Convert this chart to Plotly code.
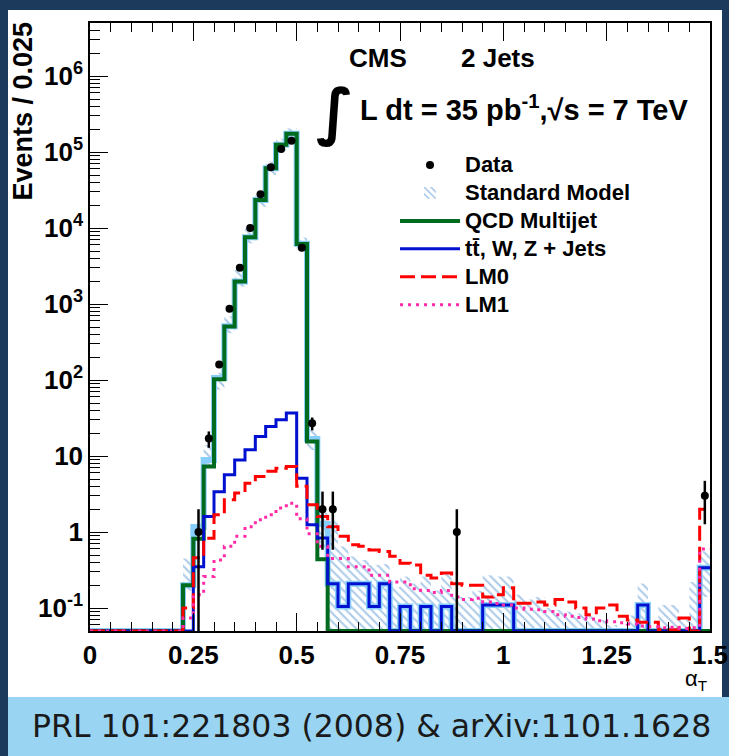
import numpy as np
import plotly.graph_objects as go

# ---------------- data ----------------
bin_width = 0.025
n_bins = 60
edges = np.round(np.arange(n_bins + 1) * bin_width, 4)
centers = edges[:-1] + bin_width / 2

# QCD multijet (green)
qcd = [0] * 9 + [0.2, 0.82, 7.3, 103, 507, 1980, 7600, 23500, 61500, 125000,
                 174000, 6200, 15.6, 0.44] + [0] * 37

# ttbar, W, Z + jets (blue)
ewk = [0] * 10 + [0.35, 1.6, 3.4, 5.7, 8.9, 12.1, 18.1, 24.5, 30, 36.8,
                  5.1, 1.25, 0.84, 0.21, 0.105, 0.21, 0.21, 0.105, 0.21, 0,
                  0.105, 0, 0.105, 0, 0.105, 0, 0, 0, 0.11, 0.11,
                  0.11, 0, 0, 0, 0, 0, 0, 0, 0, 0,
                  0, 0, 0, 0.11, 0, 0, 0, 0, 0, 0.34]

# LM0 (red dashed)
lm0 = [0] * 9 + [0.1, 0.46, 0.83, 1.69, 2.66, 3.26, 4.4, 5.4, 6.3, 6.9,
                 7.3, 4.0, 2.29, 1.6, 1.18, 0.88, 0.68, 0.65, 0.58, 0.555,
                 0.48, 0.39, 0.37, 0.27, 0.25, 0.29, 0.21, 0.2, 0.2, 0.14,
                 0.15, 0.185, 0.116, 0.116, 0.12, 0.11, 0.13, 0.12, 0.1, 0.082,
                 0.1, 0.11, 0.078, 0.07, 0.065, 0.065, 0.052, 0.052, 0.074, 0.05,
                 2.0]

# LM1 (magenta dotted)
lm1 = [0] * 9 + [0.074, 0.15, 0.26, 0.43, 0.65, 0.88, 1.18, 1.45, 1.69, 2.07,
                 2.4, 1.5, 0.95, 0.65, 0.45, 0.45, 0.35, 0.35, 0.27, 0.27,
                 0.22, 0.22, 0.18, 0.17, 0.16, 0.17, 0.14, 0.13, 0.135, 0.12,
                 0.115, 0.11, 0.1, 0.097, 0.095, 0.09, 0.082, 0.078, 0.075, 0.072,
                 0.068, 0.066, 0.064, 0.062, 0.058, 0.057, 0.055, 0.056, 0.054, 0.055,
                 0.6]

# Standard Model uncertainty band (low / high edge per bin)
sm_band_lo = [0] * 9 + [0.17, 0.88, 7.5, 75, 415, 1700, 6300, 19000, 50000, 105000,
                        145000, 5000, 12, 0.6] + [0] * 36 + [0.14]
sm_band_hi = [0] * 9 + [0.45, 1.3, 14, 125, 690, 2800, 10000, 28000, 75000, 150000,
                        205000, 7500, 22, 1.8, 1.45, 0.65, 0.48, 0.43, 0.37, 0.38,
                        0.19, 0.26, 0.21, 0.26, 0.17, 0.29, 0.14, 0.14, 0.17, 0.27,
                        0.26, 0.26, 0.15, 0.13, 0.14, 0.1, 0.095, 0.09, 0.085, 0.08,
                        0.07, 0.06, 0, 0.08, 0.21, 0, 0.11, 0.11, 0.07, 0.22,
                        0.56]

# Data (event counts per bin index)
data_bins = [10, 11, 12, 13, 14, 15, 16, 17, 18, 19, 20, 21, 22, 23, 35, 59]
data_counts = [1, 17, 160, 870, 3000, 10000, 28000, 63000, 110000, 141000,
               5500, 27, 2, 2, 1, 3]

y_tick_vals = [0.1, 1, 10, 100, 1000, 1e4, 1e5, 1e6]
y_tick_text = ["10<sup>-1</sup>", "1", "10", "10<sup>2</sup>", "10<sup>3</sup>",
               "10<sup>4</sup>", "10<sup>5</sup>", "10<sup>6</sup>"]
x_tick_vals = [0, 0.25, 0.5, 0.75, 1, 1.25, 1.5]
x_tick_text = ["0", "0.25", "0.5", "0.75", "1", "1.25", "1.5"]

# ---------------- layout geometry ----------------
W, H = 729, 756
ML, MR, MT, MB = 90, 19, 23, 125
Y_MIN, Y_MAX = 0.05, 5e6
PW, PH = W - ML - MR, H - MT - MB


def px_x(px):
    return (px - ML) / PW


def px_y(py):
    return (H - MB - py) / PH


def step_xy(vals):
    y = np.maximum(np.asarray(vals, float), Y_MIN)
    return np.append(edges[:-1], edges[-1]), np.append(y, y[-1])


def legend_name(s):
    return f'<span style="font-size:22px">{s}</span>'


FONT = "Liberation Sans"
fig = go.Figure()

# SM uncertainty band (hatched)
lo = np.maximum(np.asarray(sm_band_lo, float), Y_MIN)
hi = np.asarray(sm_band_hi, float)
mask = hi > lo
fig.add_trace(go.Bar(
    x=centers[mask], base=lo[mask], y=(hi - lo)[mask], width=bin_width,
    name=legend_name("Standard Model"), legendrank=2,
    marker=dict(color="rgba(0,0,0,0)", line=dict(width=0),
                pattern=dict(shape="\\", fgcolor="#5895d4", bgcolor="rgba(0,0,0,0)",
                             size=6, solidity=0.35, fillmode="overlay")),
    hoverinfo="skip",
))

# SM central value
sm = np.asarray(qcd, float) + np.asarray(ewk, float)
sx, sy = step_xy(sm)
fig.add_trace(go.Scatter(x=sx, y=sy, mode="lines", line=dict(color="#87cefa", width=6, shape="hv"),
                         showlegend=False, hoverinfo="skip"))

traces = [
    (qcd, "QCD Multijet", dict(color="#006b1e", width=4, shape="hv"), 3),
    (ewk, "tt\u0304, W, Z + Jets", dict(color="#0010d0", width=3, shape="hv"), 4),
    (lm0, "LM0", dict(color="#ff0000", width=3, shape="hv", dash="15px,6px"), 5),
    (lm1, "LM1", dict(color="#ff2aa8", width=3, shape="hv", dash="3px,5px"), 6),
]
for vals, name, line, rank in traces:
    xs, ys = step_xy(vals)
    fig.add_trace(go.Scatter(x=xs, y=ys, mode="lines", name=legend_name(name), line=line,
                             legendrank=rank))

# Data
dc = np.asarray(data_counts, float)
fig.add_trace(go.Scatter(
    x=centers[data_bins], y=dc, mode="markers", name=legend_name("Data"), legendrank=1,
    marker=dict(color="black", size=8),
    error_y=dict(type="data", array=np.sqrt(dc), arrayminus=np.sqrt(dc),
                 color="black", thickness=2.5, width=0),
))

fig.update_layout(
    width=W, height=H, autosize=False,
    margin=dict(l=ML, r=MR, t=MT, b=MB, autoexpand=False),
    paper_bgcolor="#1b3a5c",
    plot_bgcolor="white",
    barmode="overlay",
    font=dict(family=FONT, color="black"),
    showlegend=True,
    legend=dict(
        x=px_x(395), y=px_y(146), xanchor="left", yanchor="top",
        bgcolor="rgba(0,0,0,0)", borderwidth=0,
        font=dict(family=FONT, size=19.2, weight="bold", color="black"),
        itemwidth=60, tracegroupgap=0, traceorder="normal",
    ),
    xaxis=dict(
        range=[0, 1.5], showgrid=False, zeroline=False,
        showline=True, linecolor="black", linewidth=1.5, mirror="ticks",
        ticks="inside", ticklen=18, tickwidth=1.2, tickcolor="black",
        tickvals=x_tick_vals, ticktext=x_tick_text,
        tickfont=dict(family=FONT, size=26, weight="bold"),
        minor=dict(ticks="inside", ticklen=9, tickwidth=1.2, tickcolor="black", dtick=0.05, showgrid=False),
    ),
    yaxis=dict(
        type="log", range=[np.log10(Y_MIN), np.log10(Y_MAX)], showgrid=False, zeroline=False,
        showline=True, linecolor="black", linewidth=1.5, mirror=True,
        ticks="inside", ticklen=18, tickwidth=1.2, tickcolor="black",
        tickvals=y_tick_vals, ticktext=y_tick_text,
        tickfont=dict(family=FONT, size=26, weight="bold"),
        minor=dict(ticks="inside", ticklen=10, tickwidth=1.2, tickcolor="black", showgrid=False,
                   tickvals=[k * 10.0 ** e for e in range(-2, 7) for k in range(2, 10)
                             if Y_MIN < k * 10.0 ** e < Y_MAX]),
    ),
)

# white panel and caption band
fig.add_shape(type="rect", xref="paper", yref="paper", layer="below",
              x0=px_x(8), x1=px_x(722), y0=px_y(697), y1=px_y(10),
              fillcolor="white", line=dict(width=0))
fig.add_shape(type="rect", xref="paper", yref="paper", layer="below",
              x0=px_x(8), x1=px_x(729), y0=px_y(756), y1=px_y(697),
              fillcolor="#99d4f2", line=dict(width=0))

ann = [
    dict(text="<b>CMS</b>", x=px_x(347), y=px_y(58), size=26, xanchor="left", family=FONT),
    dict(text="<b>2 Jets</b>", x=px_x(459), y=px_y(58), size=26, xanchor="left", family=FONT),
    dict(text="<b>\u222b</b>", x=px_x(356), y=px_y(111), size=62, xanchor="right", family="DejaVu Sans"),
    dict(text="<b>L dt = 35 pb<sup>-1</sup>,\u221as = 7 TeV</b>", x=px_x(358), y=px_y(108), size=29,
         xanchor="left", family=FONT),
    dict(text="\u03b1<sub>T</sub>", x=px_x(710), y=px_y(680), size=22, xanchor="right", family=FONT),
]
for a in ann:
    fig.add_annotation(text=a["text"], x=a["x"], y=a["y"], xref="paper", yref="paper",
                       xanchor=a["xanchor"], yanchor="middle", showarrow=False,
                       font=dict(family=a["family"], size=a["size"], color="black"))

fig.add_annotation(text="<b>Events / 0.025</b>", x=px_x(22), y=px_y(20), xref="paper", yref="paper",
                   xanchor="center", yanchor="top", textangle=-90, showarrow=False,
                   font=dict(family=FONT, size=27, color="black"))

fig.add_annotation(text="PRL 101:221803 (2008) &amp; arXiv:1101.1628", x=px_x(371), y=px_y(726),
                   xref="paper", yref="paper", xanchor="center", yanchor="middle", showarrow=False,
                   font=dict(family="DejaVu Sans", size=31.5, color="#1a1a1a"))

fig.write_html(
    "out.html",
    config={"displayModeBar": False, "responsive": False},
    post_script=("document.body.style.margin='0';document.body.style.overflow='hidden';"
                 "document.body.style.background='#1b3a5c';"),
)
